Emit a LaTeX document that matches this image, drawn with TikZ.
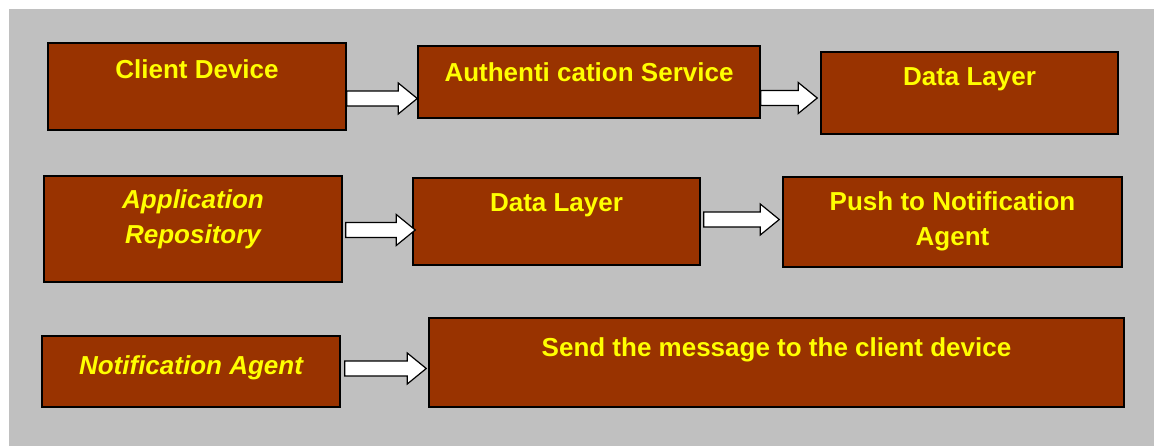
\documentclass[tikz,border=0pt]{standalone}
\usepackage{fontspec}
\setmainfont{Liberation Sans}
\usepackage{tikz}
\usetikzlibrary{calc}
\usetikzlibrary{positioning}
\definecolor{boxbrown}{HTML}{993300}
\definecolor{boxyellow}{HTML}{FFFF00}
\definecolor{bggrey}{HTML}{C0C0C0}
\tikzstyle{blockarrow} = [draw=black, fill=white, line width=1.2pt, line join=miter,
  to path={let \p1=(\tikztostart), \p2=(\tikztotarget) in
    (\x1,\y1+7.5pt) -- (\x2-19pt,\y1+7.5pt) -- (\x2-19pt,\y1+15.5pt) -- (\x2,\y1)
    -- (\x2-19pt,\y1-15.5pt) -- (\x2-19pt,\y1-7.5pt) -- (\x1,\y1-7.5pt) -- cycle}]
\begin{document}
\begin{tikzpicture}[x=1pt, y=-1pt,
                      box node/.style={draw=black, line width=1.5pt, fill=boxbrown, inner sep=0pt},
                      box text/.style={anchor=north, inner sep=0pt, align=center, text=boxyellow,
                                       font=\fontsize{26}{35}\selectfont\bfseries}]
        \useasboundingbox (0,0) rectangle (1154,446);
        \fill[bggrey] (9,9) rectangle (1154,446);

        \node[box node, minimum width=298pt, minimum height=87pt,
              label={[box text, yshift=-17pt]north:Client Device}] (1) at (197,86.5) {};
        \node[box node, minimum width=342pt, minimum height=72pt,
              label={[box text, yshift=-17pt]north:Authenti cation Service}] (2) at (589,82) {};
        \node[box node, minimum width=297pt, minimum height=82pt,
              label={[box text, yshift=-16pt]north:Data Layer}] (3) at (969.5,93) {};

        \node[box node, minimum width=298pt, minimum height=106pt,
              label={[box text, yshift=-14pt, font=\fontsize{26}{35}\selectfont\bfseries\itshape]north:Application\\Repository}] (4) at (193,229) {};
        \node[box node, minimum width=287pt, minimum height=87pt,
              label={[box text, yshift=-16pt]north:Data Layer}] (5) at (556.5,221.5) {};
        \node[box node, minimum width=339pt, minimum height=90pt,
              label={[box text, yshift=-15pt]north:Push to Notification\\Agent}] (6) at (952.5,222) {};

        \node[box node, minimum width=298pt, minimum height=71pt,
              label={[box text, yshift=-20pt, font=\fontsize{26}{35}\selectfont\bfseries\itshape]north:Notification Agent}] (7) at (191,371.5) {};
        \node[box node, minimum width=695pt, minimum height=89pt,
              label={[box text, yshift=-20pt]north:Send the message to the client device}] (8) at (776.5,362.5) {};

        \draw[blockarrow] ([yshift=-12pt]1.east) to (2.west);
        \draw[blockarrow] ([yshift=-16pt]2.east) to ([xshift=-3pt]3.west);
        \draw[blockarrow] ([xshift=3pt,yshift=-1pt]4.east) to ([xshift=3pt]5.west);
        \draw[blockarrow] ([xshift=3pt,yshift=2pt]5.east) to ([xshift=-3pt]6.west);
        \draw[blockarrow] ([xshift=4pt,yshift=3pt]7.east) to ([xshift=-2pt]8.west);
    \end{tikzpicture}
\end{document}
